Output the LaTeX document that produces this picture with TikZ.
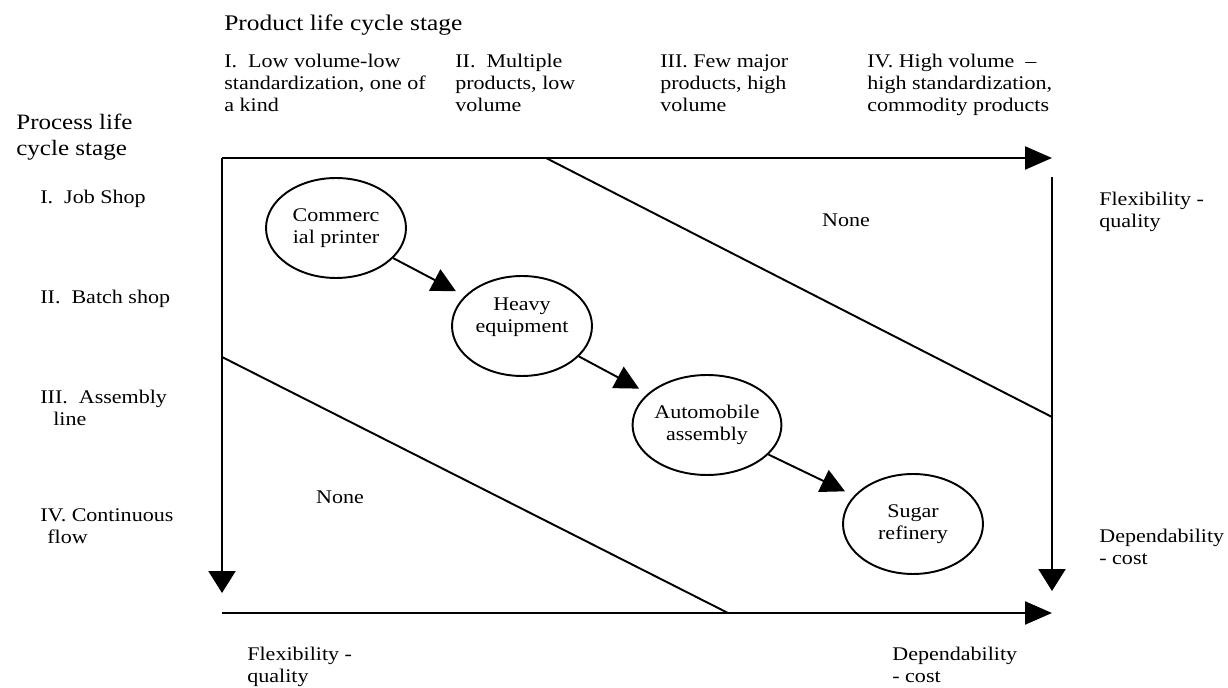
\documentclass[tikz,border=0pt]{standalone}
\usepackage{fontspec}
\setmainfont{Liberation Serif}[FakeStretch=1.14]
\usetikzlibrary{arrows.meta,shapes.geometric}
\begin{document}
\begin{tikzpicture}[x=0.02cm, y=-0.02cm,
        txt/.style={anchor=north west, align=left, inner sep=0pt, font=\fontsize{11}{12.5}\selectfont},
        stage/.style={ellipse, draw, line width=1.1pt, minimum width=2.8cm, minimum height=2cm, inner sep=0pt, align=center, font=\fontsize{11}{12.5}\selectfont},
        haxis/.style={line width=1.3pt, -{Triangle[length=0.54cm, width=0.46cm]}},
        vaxis/.style={line width=1.3pt, -{Triangle[length=0.44cm, width=0.54cm]}},
        move/.style={line width=1.1pt, -{Triangle[length=0.48cm, width=0.48cm]}, shorten >=0.2cm}]
            \useasboundingbox ( 0, 0 ) rectangle ( 1228, 688 );

            % углы
            \coordinate (tl) at ( 222, 158 );
            \coordinate (tr) at ( 1052, 158 );
            \coordinate (bl) at ( 222, 593 );
            \coordinate (bb) at ( 222, 613 );
            \coordinate (br) at ( 1052, 613 );
            \coordinate (rt) at ( 1052, 177 );
            \coordinate (rb) at ( 1052, 591 );

            % оси
            \draw [haxis] (tl) -- (tr);
            \draw [vaxis] (tl) -- (bl);
            \draw [haxis] (bb) -- (br);
            \draw [vaxis] (rt) -- (rb);

            % диагонали
            \coordinate (ua) at ( 546, 158 );
            \coordinate (ub) at ( 1052, 417 );
            \coordinate (la) at ( 222, 357 );
            \coordinate (lb) at ( 728, 613 );
            \draw [line width=1.1pt] (ua) -- (ub);
            \draw [line width=1.1pt] (la) -- (lb);

            % заголовки
            \node [txt, font=\fontsize{12.7}{15}\selectfont] (prod) at ( 224, 14 ) {Product life cycle stage};
            \node [txt] (pc1) at ( 224, 54 ) {I.\ \ Low volume-low\\standardization, one of\\a kind};
            \node [txt] (pc2) at ( 455, 54 ) {II.\ \ Multiple\\products, low\\volume};
            \node [txt] (pc3) at ( 660, 54 ) {III. Few major\\products, high\\volume};
            \node [txt] (pc4) at ( 867, 54 ) {IV. High volume\ \ --\\high standardization,\\commodity products};

            \node [txt, font=\fontsize{12.5}{14.5}\selectfont] (proc) at ( 16, 114 ) {Process life\\cycle stage};
            \node [txt] (ps1) at ( 40, 190 ) {I.\ \ Job Shop};
            \node [txt] (ps2) at ( 40, 290 ) {II.\ \ Batch shop};
            \node [txt] (ps3) at ( 40, 390 ) {III.\ \ Assembly\\\hspace*{0.26cm}line};
            \node [txt] (ps4) at ( 40, 508 ) {IV. Continuous\\\hspace*{0.14cm}flow};

            % приоритеты
            \node [txt] (fr) at ( 1099, 192 ) {Flexibility -\\quality};
            \node [txt] (dr) at ( 1099, 529 ) {Dependability\\- cost};
            \node [txt] (fb) at ( 247, 647 ) {Flexibility -\\quality};
            \node [txt] (db) at ( 892, 647 ) {Dependability\\- cost};

            % пусто
            \node [font=\fontsize{11}{12.5}\selectfont] (nu) at ( 846, 220 ) {None};
            \node [font=\fontsize{11}{12.5}\selectfont] (nl) at ( 340, 497 ) {None};

            % отрасли
            \node [stage] (cp) at ( 336, 228 ) {Commerc\\ial printer};
            \node [stage] (he) at ( 522, 326 ) {Heavy\\equipment\\\mbox{}};
            \node [stage] (aa) at ( 707, 425 ) {Automobile\\assembly};
            \node [stage] (sr) at ( 913, 524 ) {Sugar\\refinery};

            \draw [move] (cp) -- (he);
            \draw [move] (he) -- (aa);
            \draw [move] (aa) -- (sr);
        \end{tikzpicture}
\end{document}
